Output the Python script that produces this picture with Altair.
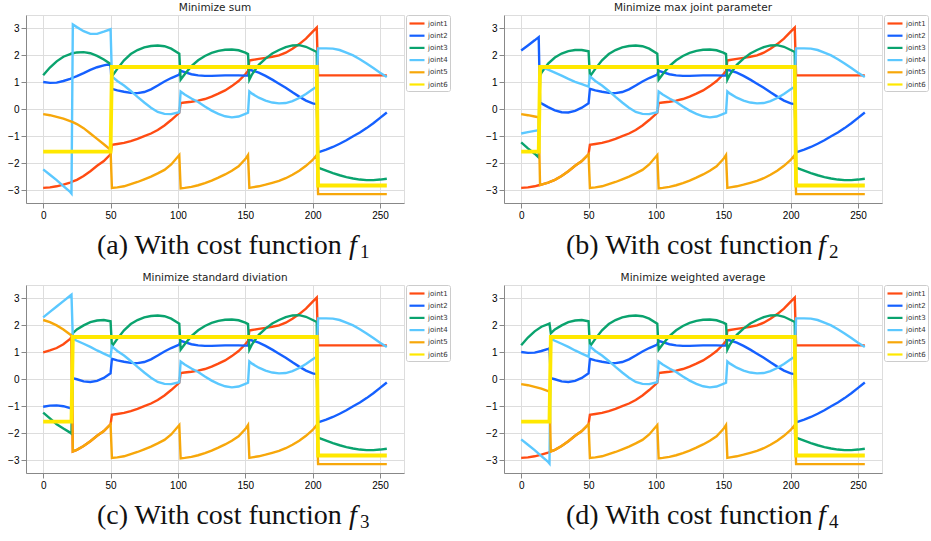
import altair as alt
import pandas as pd

JOINTS = ["joint1", "joint2", "joint3", "joint4", "joint5", "joint6"]
COLORS = ["#FF4B12", "#1560FF", "#0AA36E", "#5BC8FF", "#F7A70A", "#FFE800"]
WIDTHS = [2.4, 2.4, 2.4, 2.4, 2.4, 3.8]

TITLES = ["Minimize sum", "Minimize max joint parameter",
          "Minimize standard diviation", "Minimize weighted average"]
LETTERS = ["(a)", "(b)", "(c)", "(d)"]
SUBS = ["1", "2", "3", "4"]
CAP_X = [71, 62, 71, 62]

X_TICKS = [0, 50, 100, 150, 200, 250]
Y_TICKS = [-3, -2, -1, 0, 1, 2, 3]

# ---- first part of each trajectory (x 0..50), differs per panel ----
X0_A = [0, 5, 10, 15, 20, 21, 22, 25, 30, 35, 40, 45, 50]
X0_B = [0, 5, 10, 13, 14, 15, 20, 25, 30, 35, 40, 45, 50]
X0_C = [0, 5, 10, 15, 20, 21, 22, 25, 30, 35, 40, 45, 50]
X0_D = [0, 5, 10, 15, 20, 21, 22, 25, 30, 35, 40, 45, 50]

A_J1 = [-2.92, -2.9, -2.86, -2.8, -2.72, -2.7, -2.68, -2.62, -2.48, -2.3, -2.1, -1.92, -1.67]
A_J2 = [1.01, 0.98, 0.99, 1.05, 1.13, 1.15, 1.17, 1.23, 1.34, 1.46, 1.56, 1.63, 1.68]
A_J3 = [1.26, 1.55, 1.78, 1.95, 2.05, 2.07, 2.08, 2.11, 2.12, 2.08, 1.98, 1.85, 1.68]
A_J4 = [-2.23, -2.43, -2.63, -2.85, -3.07, -3.13, 3.15, 3.05, 2.9, 2.8, 2.8, 2.88, 2.97]
A_J5 = [-0.18, -0.22, -0.28, -0.35, -0.44, -0.46, -0.48, -0.55, -0.7, -0.9, -1.1, -1.3, -1.51]
A_J6_X = [0, 50]
A_J6 = [-1.57, -1.57]

B_J1 = [-2.92, -2.9, -2.86, -2.82, -2.81, -2.8, -2.72, -2.62, -2.48, -2.3, -2.1, -1.92, -1.67]
B_J2 = [2.18, 2.37, 2.56, 2.68, 0.25, 0.22, 0.08, -0.04, -0.11, -0.12, -0.06, 0.06, 0.22]
B_J3 = [-1.23, -1.45, -1.65, -1.79, 1.25, 1.35, 1.7, 1.92, 2.07, 2.16, 2.2, 2.2, 2.15]
B_J4 = [-0.9, -0.85, -0.8, -0.78, 1.58, 1.56, 1.47, 1.36, 1.25, 1.13, 1.02, 0.93, 0.84]
B_J5 = [-0.18, -0.22, -0.27, -0.3, -2.81, -2.8, -2.72, -2.62, -2.48, -2.3, -2.1, -1.92, -1.67]
B_J6_X = [0, 13, 14, 50]
B_J6 = [-1.57, -1.57, 1.57, 1.57]

C_J1 = [1.0, 1.07, 1.16, 1.3, 1.5, 1.56, -2.68, -2.62, -2.48, -2.3, -2.1, -1.92, -1.67]
C_J2 = [-1.02, -0.98, -0.97, -1.0, -1.07, -1.1, 0.04, 0.0, -0.08, -0.1, -0.06, 0.05, 0.22]
C_J3 = [-1.24, -1.45, -1.67, -1.83, -1.98, -2.02, 1.71, 1.85, 2.0, 2.12, 2.18, 2.2, 2.15]
C_J4 = [2.3, 2.5, 2.7, 2.9, 3.1, 3.14, 1.5, 1.43, 1.32, 1.2, 1.07, 0.95, 0.84]
C_J5 = [2.2, 2.12, 2.0, 1.85, 1.66, 1.62, -2.68, -2.62, -2.48, -2.3, -2.1, -1.92, -1.67]
C_J6_X = [0, 21, 22, 50]
C_J6 = [-1.57, -1.57, 1.57, 1.57]

D_J1 = [-2.92, -2.9, -2.86, -2.8, -2.72, -2.7, -2.68, -2.62, -2.48, -2.3, -2.1, -1.92, -1.67]
D_J2 = [1.01, 0.98, 0.99, 1.05, 1.13, 1.15, 0.04, 0.0, -0.08, -0.1, -0.06, 0.05, 0.22]
D_J3 = [1.26, 1.55, 1.78, 1.95, 2.05, 2.07, 1.71, 1.85, 2.0, 2.12, 2.18, 2.2, 2.15]
D_J4 = [-2.23, -2.43, -2.63, -2.85, -3.07, -3.13, 1.5, 1.43, 1.32, 1.2, 1.07, 0.95, 0.84]
D_J5 = [-0.18, -0.22, -0.28, -0.35, -0.44, -0.46, -2.68, -2.62, -2.48, -2.3, -2.1, -1.92, -1.67]
D_J6_X = [0, 21, 22, 50]
D_J6 = [-1.57, -1.57, 1.57, 1.57]

# ---- shared later parts (x 51..255), identical in all panels ----
X_S1 = [51, 55, 60, 65, 70, 75, 80, 85, 90, 95, 101]
X_S2 = [102, 105, 110, 115, 120, 125, 130, 135, 140, 145, 150, 152]
X_S3 = [153, 155, 160, 165, 170, 175, 180, 185, 190, 195, 200, 203]
X_S4 = [204, 210, 215, 220, 225, 230, 235, 240, 245, 250, 255]
X_FLAT_MID = [51, 203]
X_FLAT_END = [204, 255]

J1_S1 = [-1.32, -1.29, -1.25, -1.18, -1.1, -1.0, -0.9, -0.77, -0.6, -0.4, -0.13]
J1_S2 = [0.23, 0.25, 0.28, 0.32, 0.38, 0.47, 0.58, 0.7, 0.86, 1.05, 1.3, 1.42]
J1_S3 = [1.81, 1.83, 1.87, 1.91, 1.95, 2.0, 2.1, 2.25, 2.42, 2.62, 2.88, 3.03]
J1_END = [1.26, 1.26]

J2_S1 = [0.76, 0.7, 0.65, 0.61, 0.6, 0.64, 0.74, 0.88, 1.03, 1.16, 1.29]
J2_S2 = [1.43, 1.38, 1.3, 1.26, 1.24, 1.24, 1.25, 1.26, 1.26, 1.26, 1.25, 1.25]
J2_S3 = [1.47, 1.44, 1.36, 1.24, 1.1, 0.95, 0.8, 0.63, 0.47, 0.32, 0.22, 0.19]
J2_S4 = [-1.6, -1.5, -1.4, -1.28, -1.15, -1.0, -0.86, -0.7, -0.52, -0.32, -0.12]

J3_S1 = [1.22, 1.5, 1.82, 2.05, 2.2, 2.3, 2.35, 2.37, 2.34, 2.25, 2.06]
J3_S2 = [1.1, 1.3, 1.6, 1.82, 1.98, 2.09, 2.17, 2.21, 2.22, 2.19, 2.1, 2.05]
J3_S3 = [1.1, 1.3, 1.65, 1.88, 2.07, 2.2, 2.31, 2.37, 2.38, 2.32, 2.2, 2.13]
J3_S4 = [-2.17, -2.28, -2.37, -2.45, -2.52, -2.57, -2.61, -2.63, -2.63, -2.61, -2.58]

J4_S1 = [1.22, 1.05, 0.88, 0.68, 0.46, 0.25, 0.06, -0.1, -0.17, -0.18, -0.11]
J4_S2 = [0.66, 0.55, 0.4, 0.27, 0.1, -0.05, -0.17, -0.26, -0.3, -0.27, -0.17, -0.13]
J4_S3 = [0.66, 0.58, 0.43, 0.32, 0.25, 0.22, 0.23, 0.3, 0.42, 0.57, 0.74, 0.84]
J4_S4 = [2.26, 2.26, 2.25, 2.2, 2.1, 2.0, 1.86, 1.7, 1.53, 1.36, 1.2]

J5_S1 = [-2.92, -2.9, -2.86, -2.78, -2.7, -2.6, -2.5, -2.38, -2.25, -2.05, -1.7]
J5_S2 = [-2.94, -2.92, -2.88, -2.82, -2.74, -2.65, -2.54, -2.42, -2.28, -2.12, -1.85, -1.7]
J5_S3 = [-2.92, -2.9, -2.86, -2.8, -2.73, -2.66, -2.56, -2.43, -2.28, -2.1, -1.88, -1.7]
J5_END = [-3.15, -3.15]

J6_MID = [1.57, 1.57]
J6_END = [-2.83, -2.83]

TAIL = {
    "joint1": [(X_S1, J1_S1), (X_S2, J1_S2), (X_S3, J1_S3), (X_FLAT_END, J1_END)],
    "joint2": [(X_S1, J2_S1), (X_S2, J2_S2), (X_S3, J2_S3), (X_S4, J2_S4)],
    "joint3": [(X_S1, J3_S1), (X_S2, J3_S2), (X_S3, J3_S3), (X_S4, J3_S4)],
    "joint4": [(X_S1, J4_S1), (X_S2, J4_S2), (X_S3, J4_S3), (X_S4, J4_S4)],
    "joint5": [(X_S1, J5_S1), (X_S2, J5_S2), (X_S3, J5_S3), (X_FLAT_END, J5_END)],
    "joint6": [(X_FLAT_MID, J6_MID), (X_FLAT_END, J6_END)],
}

HEADS = [
    {"joint1": (X0_A, A_J1), "joint2": (X0_A, A_J2), "joint3": (X0_A, A_J3),
     "joint4": (X0_A, A_J4), "joint5": (X0_A, A_J5), "joint6": (A_J6_X, A_J6)},
    {"joint1": (X0_B, B_J1), "joint2": (X0_B, B_J2), "joint3": (X0_B, B_J3),
     "joint4": (X0_B, B_J4), "joint5": (X0_B, B_J5), "joint6": (B_J6_X, B_J6)},
    {"joint1": (X0_C, C_J1), "joint2": (X0_C, C_J2), "joint3": (X0_C, C_J3),
     "joint4": (X0_C, C_J4), "joint5": (X0_C, C_J5), "joint6": (C_J6_X, C_J6)},
    {"joint1": (X0_D, D_J1), "joint2": (X0_D, D_J2), "joint3": (X0_D, D_J3),
     "joint4": (X0_D, D_J4), "joint5": (X0_D, D_J5), "joint6": (D_J6_X, D_J6)},
]

W, H = 378, 188
FONT = "DejaVu Sans"
SERIF = "Liberation Serif"


def panel_frame(head):
    rows = []
    for j in JOINTS:
        segs = [head[j]] + TAIL[j]
        for xs, ys in segs:
            for xv, yv in zip(xs, ys):
                rows.append({"joint": j, "x": xv, "y": yv})
    return pd.DataFrame(rows)


LEGEND = alt.Legend(
    title=None, orient="right", offset=2, padding=2, strokeColor="#cccccc",
    cornerRadius=2, fillColor="white", symbolType="M-1,0H2.0", symbolSize=100,
    symbolStrokeWidth=2.2, symbolOffset=0, labelFont=FONT, labelFontSize=7,
    labelColor="#333333", rowPadding=1.2, labelOffset=7
)


def make_panel(i):
    df = panel_frame(HEADS[i])
    base = alt.Chart(df)
    layers = []
    for j, w in zip(JOINTS, WIDTHS):
        layers.append(
            base.transform_filter(alt.datum.joint == j)
            .mark_line(strokeWidth=w)
            .encode(
                x=alt.X("x:Q", scale=alt.Scale(domain=[-12.75, 267.75], nice=False, zero=False),
                        axis=alt.Axis(values=X_TICKS, title=None)),
                y=alt.Y("y:Q", scale=alt.Scale(domain=[-3.48, 3.5], nice=False, zero=False),
                        axis=alt.Axis(values=Y_TICKS, title=None)),
                color=alt.Color("joint:N", scale=alt.Scale(domain=JOINTS, range=COLORS),
                                legend=LEGEND),
            )
        )
    cx = CAP_X[i]
    cap = alt.Chart(pd.DataFrame({"t": [LETTERS[i] + " With cost function"]})).mark_text(
        font=SERIF, fontSize=28, align="left", baseline="alphabetic", color="#111"
    ).encode(text="t:N", x=alt.value(cx), y=alt.value(H + 51))
    fmark = alt.Chart(pd.DataFrame({"t": ["f"]})).mark_text(
        font=SERIF, fontSize=28, fontStyle="italic", align="left", baseline="alphabetic", color="#111"
    ).encode(text="t:N", x=alt.value(cx + 252), y=alt.value(H + 51))
    smark = alt.Chart(pd.DataFrame({"t": [SUBS[i]]})).mark_text(
        font=SERIF, fontSize=19, align="left", baseline="alphabetic", color="#111"
    ).encode(text="t:N", x=alt.value(cx + 263), y=alt.value(H + 55))
    return alt.layer(*layers, cap, fmark, smark).properties(
        width=W,
        height=H,
        title=alt.TitleParams(TITLES[i], font=FONT, fontSize=10.5, fontWeight="normal",
                              color="#222222", offset=1, anchor="middle"),
    )


panels = [make_panel(i) for i in range(4)]

chart = alt.concat(*panels, columns=2, spacing={"row": 9, "column": 34}).resolve_legend(
    color="independent"
).resolve_scale(color="independent").properties(
    padding={"left": 7, "top": 2, "right": 0, "bottom": 0}
).configure_view(
    stroke="#555", strokeWidth=1
).configure_axis(
    domain=False, grid=False, tickColor="#333", tickSize=3.5, tickWidth=0.8,
    labelFont=FONT, labelFontSize=9, labelColor="#333", labelPadding=2
).configure(background="white")

chart.save("out.html", embed_options={"renderer": "svg", "actions": False})
